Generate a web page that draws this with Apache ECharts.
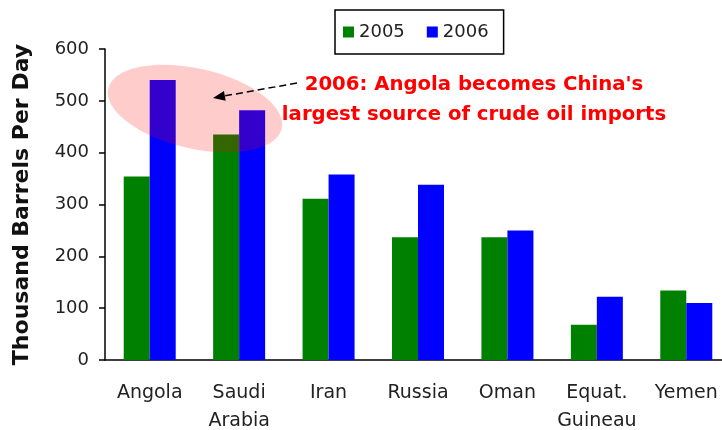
<!DOCTYPE html>
<html>
<head>
<meta charset="utf-8">
<script src="https://cdn.jsdelivr.net/npm/echarts@6/dist/echarts.min.js"></script>
<style>
  html, body { margin: 0; padding: 0; background: #fff; }
  #main { width: 722px; height: 430px; }
</style>
</head>
<body>
<div id="main"></div>
<script>
// 数据
var categories = ['Angola', 'Saudi\nArabia', 'Iran', 'Russia', 'Oman', 'Equat.\nGuineau', 'Yemen'];
var years = ['2005', '2006'];
var imports2005 = [354, 435, 311, 237, 237, 68, 134];
var imports2006 = [540, 482, 358, 338, 250, 122, 110];
var yTicks = [0, 100, 200, 300, 400, 500, 600];

var chart = echarts.init(document.getElementById('main'));

// 箭头: 从文字指向椭圆
var arrowFrom = [297, 83];
var arrowTip = [213, 98];
var dx = arrowTip[0] - arrowFrom[0], dy = arrowTip[1] - arrowFrom[1];
var len = Math.sqrt(dx * dx + dy * dy);
var ux = dx / len, uy = dy / len;
var headLen = 12, headHalf = 5;
var baseX = arrowTip[0] - ux * headLen, baseY = arrowTip[1] - uy * headLen;

var option = {
  animation: false,
  backgroundColor: '#fff',
  grid: {
    left: 105,
    top: 49,
    width: 626,
    bottom: 70,
    outerBoundsMode: 'none'
  },
  // 图例
  legend: {
    data: years,
    left: 335,
    top: 10,
    icon: 'rect',
    itemWidth: 11,
    itemHeight: 11,
    itemGap: 22,
    padding: [13, 15, 13, 8],
    borderColor: '#000',
    borderWidth: 1.5,
    textStyle: { fontSize: 18, color: '#222', fontFamily: 'DejaVu Sans' }
  },
  xAxis: {
    type: 'category',
    data: categories,
    axisLine: { lineStyle: { color: '#000', width: 1.5 } },
    axisTick: { show: false },
    axisLabel: {
      interval: 0,
      fontSize: 19,
      lineHeight: 28,
      margin: 19,
      color: '#222',
      fontFamily: 'DejaVu Sans'
    }
  },
  yAxis: {
    type: 'value',
    min: yTicks[0],
    max: yTicks[yTicks.length - 1],
    interval: 100,
    name: 'Thousand Barrels Per Day',
    nameLocation: 'middle',
    nameRotate: 90,
    nameGap: 72,
    nameTextStyle: { fontSize: 22, fontWeight: 'bold', color: '#111', fontFamily: 'DejaVu Sans' },
    axisLine: { show: true, lineStyle: { color: '#000', width: 1.5 } },
    axisTick: { show: true, length: 6, lineStyle: { color: '#000', width: 1.5 } },
    splitLine: { show: false },
    axisLabel: { fontSize: 18, margin: 16, color: '#222', fontFamily: 'DejaVu Sans' }
  },
  series: [{
    name: years[0],
    type: 'bar',
    data: imports2005,
    barWidth: 26,
    barGap: '0%',
    itemStyle: { color: '#008000' }
  }, {
    name: years[1],
    type: 'bar',
    data: imports2006,
    barWidth: 26,
    barGap: '0%',
    itemStyle: { color: '#0000ff' }
  }],
  // 注释: 粉色椭圆 + 虚线箭头 + 红字
  graphic: [{
    type: 'ellipse',
    z: 100,
    x: 195,
    y: 108.5,
    rotation: -13 * Math.PI / 180,
    shape: { cx: 0, cy: 0, rx: 89, ry: 40 },
    style: { fill: 'rgba(255,0,0,0.2)', stroke: null }
  }, {
    type: 'line',
    z: 101,
    shape: { x1: arrowFrom[0], y1: arrowFrom[1], x2: baseX, y2: baseY },
    style: { stroke: '#000', lineWidth: 1.5, lineDash: [7, 4] }
  }, {
    type: 'polygon',
    z: 101,
    shape: {
      points: [
        arrowTip,
        [baseX - uy * headHalf, baseY + ux * headHalf],
        [baseX + uy * headHalf, baseY - ux * headHalf]
      ]
    },
    style: { fill: '#000' }
  }, {
    type: 'text',
    z: 101,
    x: 474,
    y: 100,
    style: {
      text: "2006: Angola becomes China's\nlargest source of crude oil imports",
      fill: '#ff0000',
      font: 'bold 19.7px "DejaVu Sans"',
      lineHeight: 30,
      align: 'center',
      verticalAlign: 'middle'
    }
  }]
};

chart.setOption(option);
</script>
</body>
</html>
